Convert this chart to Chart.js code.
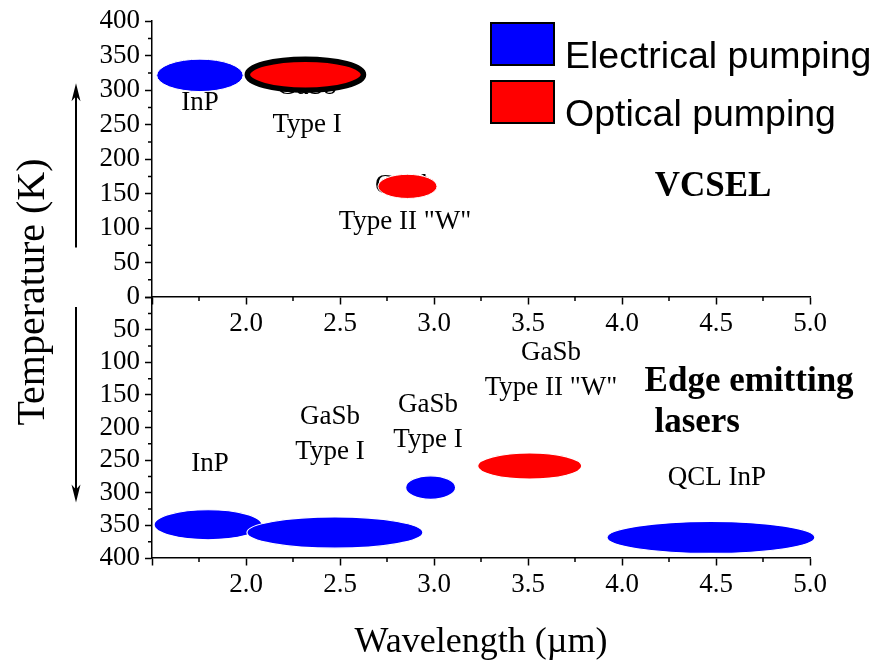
<!DOCTYPE html>
<html>
<head>
<meta charset="utf-8">
<script src="https://cdn.jsdelivr.net/npm/chart.js@4.4.1/dist/chart.umd.min.js"></script>
<style>
  body { margin: 0; background: #fff; }
  #wrap { width: 873px; height: 669px; }
</style>
</head>
<body>
<div id="wrap"><canvas id="chart" width="873" height="669"></canvas></div>
<script>
// VCSEL (top panel): wavelength range (um) and max temperature range (K)
var vcselNames = ["InP", "GaSb Type I", 'GaSb Type II "W"'];
var vcselPump = ["electrical", "optical", "optical"];
var vcselLambdaMin = [1.525, 2.007, 2.702];
var vcselLambdaMax = [1.985, 2.625, 3.016];
var vcselTempMin = [298, 300, 143];
var vcselTempMax = [345, 345, 178];

// edge emitting lasers (bottom panel)
var edgeNames = ["InP", "GaSb Type I", "GaSb Type I", 'GaSb Type II "W"', "QCL InP"];
var edgePump = ["electrical", "electrical", "electrical", "optical", "electrical"];
var edgeLambdaMin = [1.511, 2.005, 2.849, 3.232, 3.92];
var edgeLambdaMax = [2.085, 2.941, 3.115, 3.786, 5.026];
var edgeTempMin = [326, 337, 274, 239, 344];
var edgeTempMax = [372, 385, 310, 279, 393];

var pumpLabels = ["Electrical pumping", "Optical pumping"];
var pumpColors = { electrical: "#0000ff", optical: "#ff0000" };

// text labels, anchored in data units
var notes = [
  { text: "InP", x: 1.755, y: 281, axis: "yTop" },
  { text: "GaSb", x: 2.325, y: 305, axis: "yTop" },
  { text: "Type I", x: 2.325, y: 249, axis: "yTop" },
  { text: "GaSb", x: 2.846, y: 161, axis: "yTop" },
  { text: 'Type II "W"', x: 2.846, y: 109, axis: "yTop" },
  { text: "VCSEL", x: 4.484, y: 159, axis: "yTop", bold: true },
  { text: "InP", x: 1.809, y: 256, axis: "yBot" },
  { text: "GaSb", x: 2.447, y: 184, axis: "yBot" },
  { text: "Type I", x: 2.447, y: 237, axis: "yBot" },
  { text: "GaSb", x: 2.968, y: 165, axis: "yBot" },
  { text: "Type I", x: 2.968, y: 219, axis: "yBot" },
  { text: "GaSb", x: 3.622, y: 86, axis: "yBot" },
  { text: 'Type II "W"', x: 3.622, y: 139, axis: "yBot" },
  { text: "Edge emitting", x: 4.676, y: 130, axis: "yBot", bold: true },
  { text: "lasers", x: 4.40, y: 193, axis: "yBot", bold: true },
  { text: "QCL InP", x: 4.505, y: 277, axis: "yBot" },
];

var serif = "'Liberation Serif', 'Times New Roman', serif";
var sans = "'Liberation Sans', Arial, sans-serif";

Chart.defaults.font.family = serif;
Chart.defaults.font.size = 27;
Chart.defaults.color = "#000";

function buildPoints(lmin, lmax, tmin, tmax) {
  var pts = [];
  for (var i = 0; i < lmin.length; i++) {
    pts.push({
      x: (lmin[i] + lmax[i]) / 2,
      y: (tmin[i] + tmax[i]) / 2,
      x0: lmin[i], x1: lmax[i], y0: tmin[i], y1: tmax[i],
    });
  }
  return pts;
}

var ellipsePlugin = {
  id: "ellipses",
  afterDatasetsDraw: function (chart) {
    var ctx = chart.ctx;
    var xs = chart.scales.x;
    chart.data.datasets.forEach(function (ds) {
      var ys = chart.scales[ds.yAxisID];
      ds.data.forEach(function (p, i) {
        var x0 = xs.getPixelForValue(p.x0), x1 = xs.getPixelForValue(p.x1);
        var y0 = ys.getPixelForValue(p.y0), y1 = ys.getPixelForValue(p.y1);
        ctx.save();
        ctx.beginPath();
        ctx.ellipse((x0 + x1) / 2, (y0 + y1) / 2, Math.abs(x1 - x0) / 2, Math.abs(y1 - y0) / 2, 0, 0, Math.PI * 2);
        ctx.fillStyle = ds.backgroundColor[i];
        ctx.fill();
        ctx.lineWidth = ds.borderWidth[i];
        ctx.strokeStyle = ds.borderColor[i];
        ctx.stroke();
        ctx.restore();
      });
    });
  },
};

var notesPlugin = {
  id: "notes",
  beforeDatasetsDraw: function (chart) {
    var ctx = chart.ctx;
    ctx.save();
    ctx.fillStyle = "#000";
    ctx.textAlign = "center";
    ctx.textBaseline = "middle";
    notes.forEach(function (n) {
      ctx.font = (n.bold ? "bold 35px " : "27px ") + serif;
      ctx.fillText(n.text, chart.scales.x.getPixelForValue(n.x), chart.scales[n.axis].getPixelForValue(n.y));
    });
    ctx.restore();
  },
};

var decorPlugin = {
  id: "decor",
  afterDraw: function (chart) {
    var ctx = chart.ctx;
    var area = chart.chartArea;
    var xs = chart.scales.x;
    var yTop = chart.scales.yTop;
    var yBot = chart.scales.yBot;
    ctx.save();
    ctx.strokeStyle = "#000";
    ctx.fillStyle = "#000";
    ctx.lineWidth = 1.5;

    // minor ticks
    ctx.beginPath();
    for (var v = 1.75; v < 5; v += 0.5) {
      var px = xs.getPixelForValue(v);
      [yTop.getPixelForValue(0), yBot.getPixelForValue(400)].forEach(function (py) {
        ctx.moveTo(px, py);
        ctx.lineTo(px, py + 4);
      });
    }
    for (var t = 25; t < 400; t += 50) {
      [yTop, yBot].forEach(function (s) {
        var py = s.getPixelForValue(t);
        ctx.moveTo(area.left, py);
        ctx.lineTo(area.left - 4, py);
      });
    }
    ctx.stroke();

    // arrows
    var ax = area.left - 76;
    function arrow(yFrom, yTo) {
      var dir = yTo > yFrom ? 1 : -1;
      ctx.beginPath();
      ctx.lineWidth = 2;
      ctx.moveTo(ax, yFrom);
      ctx.lineTo(ax, yTo - dir * 10);
      ctx.stroke();
      ctx.beginPath();
      ctx.moveTo(ax, yTo);
      ctx.lineTo(ax - 4.5, yTo - dir * 18);
      ctx.lineTo(ax, yTo - dir * 13);
      ctx.lineTo(ax + 4.5, yTo - dir * 18);
      ctx.closePath();
      ctx.fill();
    }
    arrow(yTop.getPixelForValue(72), yTop.getPixelForValue(310));
    arrow(yBot.getPixelForValue(15), yBot.getPixelForValue(315));

    // axis titles
    ctx.textAlign = "center";
    ctx.textBaseline = "middle";
    ctx.font = "36px " + serif;
    ctx.fillText("Wavelength (\u00b5m)", (area.left + area.right) / 2, 643);
    ctx.save();
    ctx.translate(33, 292);
    ctx.rotate(-Math.PI / 2);
    ctx.font = "40px " + serif;
    ctx.fillText("Temperature (K)", 0, 0);
    ctx.restore();

    // legend
    ctx.textAlign = "left";
    ctx.textBaseline = "alphabetic";
    ctx.font = "37.5px " + sans;
    ctx.lineWidth = 2;
    var keys = ["electrical", "optical"];
    keys.forEach(function (k, i) {
      var bx = 491, by = 23 + i * 58;
      ctx.fillStyle = pumpColors[k];
      ctx.fillRect(bx, by, 63, 42);
      ctx.strokeRect(bx, by, 63, 42);
      ctx.fillStyle = "#000";
      ctx.fillText(pumpLabels[i], 565, by + 45);
    });
    ctx.restore();
  },
};

function tickAxis(extra) {
  var base = {
    type: "linear",
    grid: { drawOnChartArea: false, tickLength: 7, tickWidth: 1.5, color: "#000" },
    border: { color: "#000", width: 1.5 },
  };
  return Object.assign(base, extra);
}

var config = {
  type: "scatter",
  data: {
    datasets: [
      {
        label: "VCSEL",
        yAxisID: "yTop",
        data: buildPoints(vcselLambdaMin, vcselLambdaMax, vcselTempMin, vcselTempMax),
        backgroundColor: vcselPump.map(function (p) { return pumpColors[p]; }),
        borderColor: ["#fff", "#000", "#fff"],
        borderWidth: [1, 5.5, 1],
        pointRadius: 0,
      },
      {
        label: "Edge emitting lasers",
        yAxisID: "yBot",
        data: buildPoints(edgeLambdaMin, edgeLambdaMax, edgeTempMin, edgeTempMax),
        backgroundColor: edgePump.map(function (p) { return pumpColors[p]; }),
        borderColor: ["#fff", "#fff", "#fff", "#fff", "#fff"],
        borderWidth: [1.2, 1.2, 1.2, 1.2, 1.2],
        pointRadius: 0,
      },
    ],
  },
  options: {
    responsive: false,
    animation: false,
    devicePixelRatio: 1,
    layout: { padding: { left: 52, top: 20, right: 63, bottom: 111 } },
    plugins: { legend: { display: false }, tooltip: { enabled: false } },
    scales: {
      x: tickAxis({
        position: { yBot: 400 },
        min: 1.5,
        max: 5.0,
        ticks: {
          stepSize: 0.5,
          padding: 4,
          maxRotation: 0,
          autoSkip: false,
          callback: function (v) { return v === 1.5 ? "" : v.toFixed(1); },
        },
      }),
      xMid: tickAxis({
        position: { yTop: 0 },
        min: 1.5,
        max: 5.0,
        ticks: {
          stepSize: 0.5,
          padding: 4,
          maxRotation: 0,
          autoSkip: false,
          callback: function (v) { return v === 1.5 ? "" : v.toFixed(1); },
        },
      }),
      yBot: tickAxis({
        position: "left",
        stack: "temp",
        stackWeight: 261,
        min: 0,
        max: 400,
        reverse: true,
        ticks: { stepSize: 50, padding: 5, autoSkip: false, callback: function (v) { return v === 0 ? "" : v; } },
        afterFit: function (s) { s.width = 100; },
      }),
      yTop: tickAxis({
        position: "left",
        stack: "temp",
        stackWeight: 276,
        min: 0,
        max: 400,
        ticks: { stepSize: 50, padding: 5, autoSkip: false },
        afterFit: function (s) { s.width = 100; },
      }),
    },
  },
  plugins: [notesPlugin, ellipsePlugin, decorPlugin],
};

new Chart(document.getElementById("chart"), config);
</script>
</body>
</html>
